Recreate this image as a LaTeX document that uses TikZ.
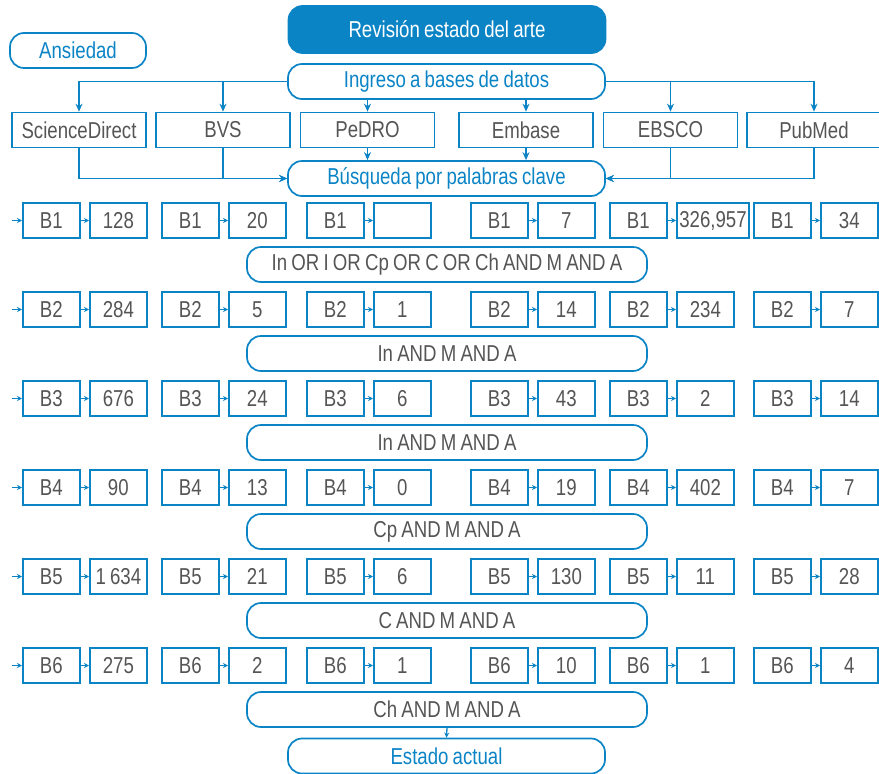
\documentclass[tikz,border=0pt]{standalone}
\usepackage{fontspec}
\setmainfont{Liberation Sans}[FakeStretch=0.81]
\usetikzlibrary{arrows.meta,positioning}
\definecolor{azul}{RGB}{11,132,198}
\definecolor{gris}{RGB}{85,85,85}
\newcommand{\letrajunta}{\fontsize{23}{27}\selectfont\spaceskip=4.2pt plus 1pt minus 1pt\relax}

\begin{document}
\begin{tikzpicture}[x=1pt, y=-1pt,
    font=\letrajunta,
    caja/.style={draw=azul, line width=1.7pt, text=gris, minimum height=35pt,
        inner sep=2.5pt},
    redonda/.style={caja, rounded corners=14pt, minimum width=317pt, text=azul},
    base/.style={caja, minimum width=134pt},
    celda/.style={caja, minimum width=57pt, anchor=west},
    consulta/.style={caja, rounded corners=14pt, minimum width=400pt},
    flecha/.style={azul, line width=1.5pt, -{Stealth[length=8pt,width=7pt]}},
    flechita/.style={azul, line width=1.3pt, -{Stealth[length=5pt,width=5pt]}}]
    \useasboundingbox (0,0) rectangle (879,774);

    % cabecera
    \node[redonda, fill=azul, text=white, minimum height=47pt] (rev) at (447,29.5) {Revisión estado del arte};
    \node[redonda, minimum width=136pt] (ans) at (78,50.5) {Ansiedad};
    \node[redonda] (ing) at (446.5,81.5) {Ingreso a bases de datos};

    % bases de datos
    \node[base] (sd) at (79,130) {ScienceDirect};
    \node[base] (bvs) at (223,130) {BVS};
    \node[base] (pe) at (367.5,130) {PeDRO};
    \node[base] (emb) at (526,130) {Embase};
    \node[base] (ebs) at (670.5,130) {EBSCO};
    \node[base] (pub) at (814,130) {PubMed};

    \node[redonda] (bus) at (446.5,178.5) {Búsqueda por palabras clave};

    \draw[flecha] (ing.west) -| (sd.north);
    \draw[flecha] (ing.west) -| (bvs.north);
    \draw[flecha] (ing.east) -| (ebs.north);
    \draw[flecha] (ing.east) -| (pub.north);
    \draw[flecha] (pe.north |- ing.south) -- (pe.north);
    \draw[flecha] (emb.north |- ing.south) -- (emb.north);
    \draw[flecha] (pe.south) -- (pe.south |- bus.north);
    \draw[flecha] (emb.south) -- (emb.south |- bus.north);
    \draw[flecha] (sd.south) |- (bus.west);
    \draw[flecha] (bvs.south) |- (bus.west);
    \draw[flecha] (ebs.south) |- (bus.east);
    \draw[flecha] (pub.south) |- (bus.east);

    % filas de busquedas
    \foreach \f/\vals/\clave in {
        1/{128,20,{},7,{326,957},34}/In OR I OR Cp OR C OR Ch AND M AND A,
        2/{284,5,1,14,234,7}/In AND M AND A,
        3/{676,24,6,43,2,14}/In AND M AND A,
        4/{90,13,0,19,402,7}/Cp AND M AND A,
        5/{1 634,21,6,130,11,28}/C AND M AND A,
        6/{275,2,1,10,1,4}/Ch AND M AND A} {
        \pgfmathsetmacro{\yf}{220.5+89*(\f-1)}
        \coordinate (e\f) at (12,\yf);
        \foreach \v [count=\c] in \vals {
            \pgfmathsetmacro{\xb}{{22,161,306,470,609,753}[\c-1]}
            \node[celda] (b\f-\c) at (\xb,\yf) {B\f};
            \node[celda] (v\f-\c) at (\xb+67,\yf) {\v};
            \draw[flechita] (b\f-\c.east) -- (v\f-\c.west);
        }
        \draw[flechita] (e\f) -- (b\f-1.west);
        \node[consulta] (q\f) at (447,\yf+44) {\clave};
    }

    \node[redonda] (est) at (446.5,756) {Estado actual};
    \draw[flechita] (q6.south) -- (est.north);
\end{tikzpicture}
\end{document}
